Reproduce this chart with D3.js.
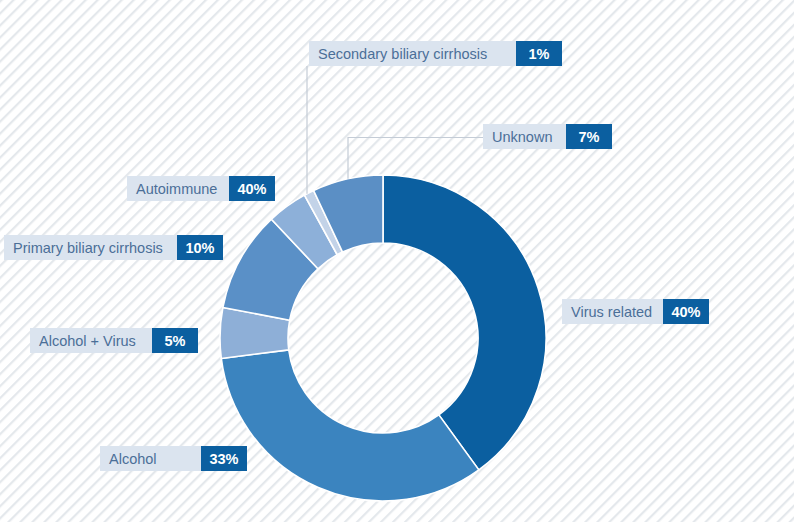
<!DOCTYPE html>
<html><head><meta charset="utf-8">
<script src="https://cdn.jsdelivr.net/npm/d3@7"></script>
<style>
html,body{margin:0;padding:0;background:#fff;}
svg{display:block;}
text{font-family:"Liberation Sans",Arial,Helvetica,sans-serif;}
</style></head>
<body>
<svg id="chart" width="794" height="522"></svg>
<script>
// ---- data ----
const categories = ["Virus related","Alcohol","Alcohol + Virus","Primary biliary cirrhosis","Autoimmune","Secondary biliary cirrhosis","Unknown"];
const values = [40,33,5,10,4,1,7];
const percentLabels = ["40%","33%","5%","10%","40%","1%","7%"];
const colors = ["#0b5fa0","#3b84bf","#8eafd7","#5a90c7","#8db0d9","#c3d3e8","#5b8fc5"];

// ---- layout (positions, not data) ----
const W=794,H=522, cx=383, cy=338, rOuter=163, rInner=95;
const boxes = [
  {x:562,y:299,w:101},   // Virus related
  {x:100,y:446,w:101},   // Alcohol
  {x:30,y:328,w:122},    // Alcohol + Virus
  {x:4,y:235,w:173},     // Primary biliary
  {x:127,y:176,w:102},   // Autoimmune
  {x:309,y:41,w:207},    // Secondary
  {x:483,y:124,w:83}     // Unknown
];
const boxH=25, darkW=46;

const svg = d3.select("#chart");
const defs = svg.append("defs");
const pat = defs.append("pattern").attr("id","hatch").attr("patternUnits","userSpaceOnUse")
  .attr("width",8.5).attr("height",8.5).attr("patternTransform","rotate(45)");
pat.append("rect").attr("width",8.5).attr("height",8.5).attr("fill","#ffffff");
pat.append("rect").attr("x",0).attr("y",0).attr("width",2.2).attr("height",8.5).attr("fill","#e4e8ec");
svg.append("rect").attr("width",W).attr("height",H).attr("fill","url(#hatch)");

// white hole
svg.append("circle").attr("cx",cx).attr("cy",cy).attr("r",rInner).attr("fill","url(#hatch)");

const pie = d3.pie().sort(null).value(d=>d)(values);
const arc = d3.arc().innerRadius(rInner).outerRadius(rOuter);
const g = svg.append("g").attr("transform",`translate(${cx},${cy})`);
g.selectAll("path").data(pie).join("path")
  .attr("d",arc).attr("fill",(d,i)=>colors[i])
  .attr("stroke","#ffffff").attr("stroke-width",1.6).attr("stroke-linejoin","round");

// leader lines
const lineColor="#c4ccd6";
function outerY(x){return cy - Math.sqrt(rOuter*rOuter-(x-cx)*(x-cx));}
// Secondary biliary cirrhosis
const sx=307;
svg.append("line").attr("x1",sx).attr("y1",boxes[5].y+boxH).attr("x2",sx).attr("y2",outerY(sx))
  .attr("stroke",lineColor).attr("stroke-width",1.2);
// Unknown
const ux=348, uy=boxes[6].y+boxH/2+1;
svg.append("polyline").attr("points",`${boxes[6].x},${uy} ${ux},${uy} ${ux},${outerY(ux)}`)
  .attr("fill","none").attr("stroke",lineColor).attr("stroke-width",1.2);

// label boxes
const lab = svg.selectAll("g.lab").data(categories).join("g").attr("class","lab")
  .attr("transform",(d,i)=>`translate(${boxes[i].x},${boxes[i].y})`);
lab.append("rect").attr("width",(d,i)=>boxes[i].w).attr("height",boxH).attr("fill","#dbe4ef");
lab.append("rect").attr("x",(d,i)=>boxes[i].w).attr("width",darkW).attr("height",boxH).attr("fill","#0b5fa0");
lab.append("text").attr("x",9).attr("y",boxH/2+5.2).attr("font-size",14.5).attr("fill","#4b6f98")
  .text(d=>d);
lab.append("text").attr("x",(d,i)=>boxes[i].w+darkW/2).attr("y",boxH/2+5.2).attr("text-anchor","middle")
  .attr("font-size",14.5).attr("font-weight","bold").attr("fill","#ffffff")
  .text((d,i)=>percentLabels[i]);
</script>
</body></html>
